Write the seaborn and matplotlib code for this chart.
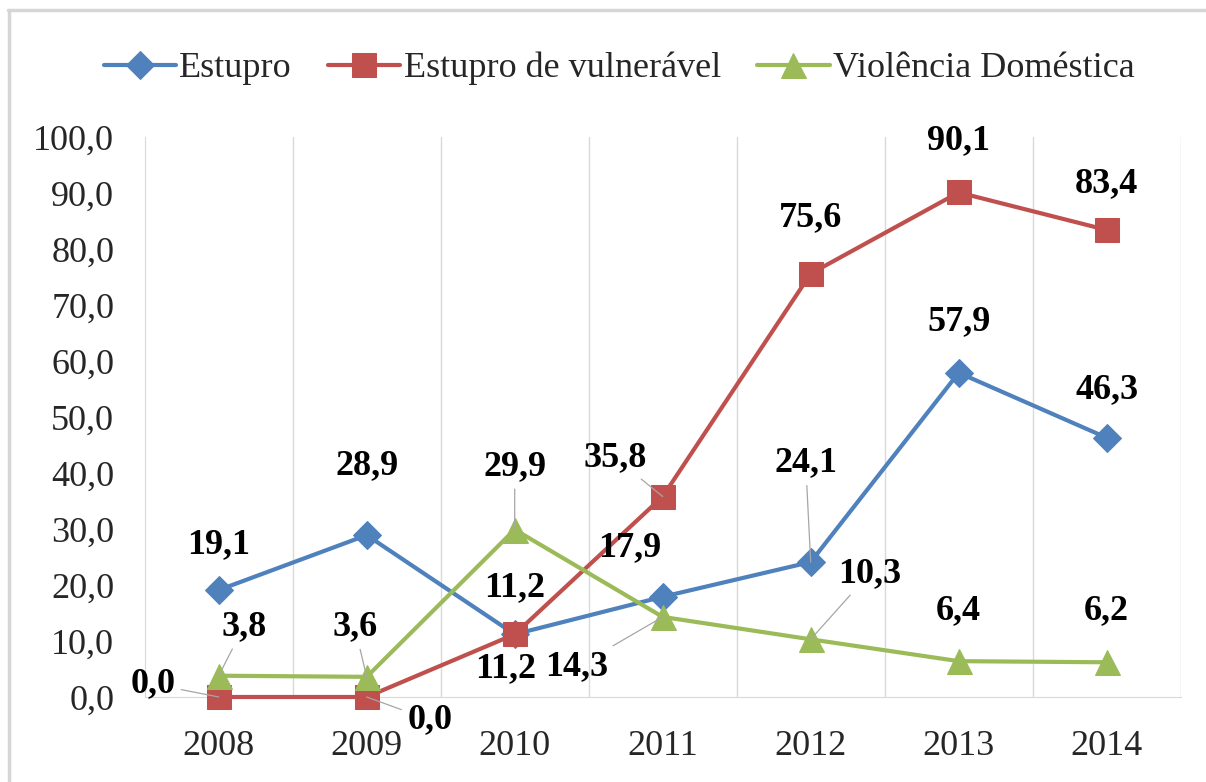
import matplotlib
matplotlib.use("Agg")
import matplotlib.pyplot as plt
import seaborn as sns
from matplotlib.lines import Line2D

years = ["2008", "2009", "2010", "2011", "2012", "2013", "2014"]
estupro = [19.1, 28.9, 11.2, 17.9, 24.1, 57.9, 46.3]
estupro_vuln = [0.0, 0.0, 11.2, 35.8, 75.6, 90.1, 83.4]
violencia = [3.8, 3.6, 29.9, 14.3, 10.3, 6.4, 6.2]
yticks = [0, 10, 20, 30, 40, 50, 60, 70, 80, 90, 100]

# label offsets in pixels (dx, dy) and whether a leader line is drawn
est_off = [(0, 45), (0, 70), (0, 47), (-33, 49), (-5, 99), (0, 51), (0, 48)]
est_lead = [False, False, False, False, True, False, False]
vul_off = [(-66, 13), (63, -23), (-9, -34), (-48, 39), (0, 56), (0, 52), (0, 46)]
vul_lead = [True, True, False, True, False, False, False]
vio_off = [(25, 49), (-12, 50), (0, 63), (-86, -50), (59, 66), (0, 51), (0, 52)]
vio_lead = [True, True, True, True, True, False, False]

sns.set_style("white")
plt.rcParams['font.family'] = ['Liberation Serif', 'DejaVu Serif']

fig = plt.figure(figsize=(12.06, 7.82), dpi=100)
ax = fig.add_axes([0.120, 0.1087, 0.859, 0.7161])

x = list(range(len(years)))
series = [
    ("Estupro", estupro, "#4F81BD", "D", 14, est_off, est_lead),
    ("Estupro de vulnerável", estupro_vuln, "#C0504D", "s", 17, vul_off, vul_lead),
    ("Violência Doméstica", violencia, "#9BBB59", "^", 18, vio_off, vio_lead),
]

for name, vals, col, mk, ms, offs, leads in series:
    sns.lineplot(x=x, y=vals, ax=ax, color=col, marker=mk, markersize=ms,
                 markeredgecolor=col, linewidth=3.0, label=name, zorder=3,
                 clip_on=False)

for name, vals, col, mk, ms, offs, leads in series:
    for xi, v, (dx, dy), lead in zip(x, vals, offs, leads):
        txt = f"{v:.1f}".replace(".", ",")
        ap = None
        if lead:
            ap = dict(arrowstyle='-', color='#a6a6a6', lw=0.9, shrinkA=2, shrinkB=0)
        ax.annotate(txt, (xi, v), xytext=(dx, dy), textcoords='offset pixels',
                    ha='center', va='center', fontsize=26, fontweight='bold',
                    color='black', arrowprops=ap, zorder=5)

ax.set_xlim(-0.5, 6.5)
ax.set_ylim(0, 100)
ax.set_xticks(x)
ax.set_xticklabels(years)
ax.set_yticks(yticks)
ax.set_yticklabels([f"{t:.1f}".replace(".", ",") for t in yticks])
ax.set_xticks([i + 0.5 for i in range(len(years))], minor=True)
ax.grid(False)
ax.xaxis.grid(True, which='minor', color='#d9d9d9', linewidth=1)
ax.tick_params(axis='x', which='both', length=0, labelsize=26, pad=24)
ax.tick_params(axis='y', length=0, labelsize=26, pad=22)
ax.set_xlabel("")
ax.set_ylabel("")
for s in ["top", "right"]:
    ax.spines[s].set_visible(False)
ax.spines["left"].set_color('#d9d9d9')
ax.spines["bottom"].set_color('#d9d9d9')

leg = ax.legend(loc='center', bbox_to_anchor=(0.458, 1.122), ncol=3, frameon=False,
                fontsize=26, handlelength=2.0, handletextpad=0.1, columnspacing=1.0)

# chart frame: only the left and top edges fall inside the image
fig.add_artist(Line2D([0.0075, 0.0075], [0, 0.9866], transform=fig.transFigure,
                      color='#d6d6d6', linewidth=2.5))
fig.add_artist(Line2D([0.0065, 1.0], [0.9866, 0.9866], transform=fig.transFigure,
                      color='#d6d6d6', linewidth=2.5))

fig.savefig("out.png", dpi=100)
